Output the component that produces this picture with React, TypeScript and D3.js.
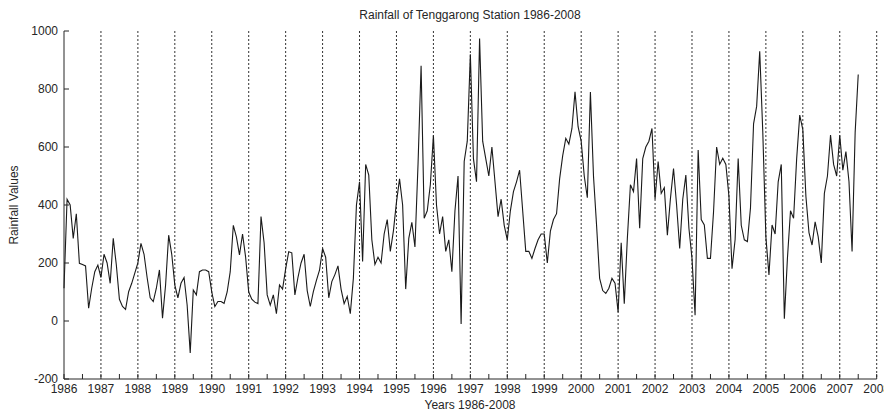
import React from "react";
import * as d3 from "d3";

const startYear = 1986;
const r1986 = [113, 420, 400, 285, 370, 199, 195, 190, 44, 113, 170, 193];
const r1987 = [150, 230, 200, 130, 285, 193, 75, 50, 40, 101, 130, 165];
const r1988 = [200, 268, 230, 150, 80, 67, 113, 176, 10, 124, 296, 230];
const r1989 = [124, 80, 130, 150, 55, -110, 107, 90, 170, 176, 176, 170];
const r1990 = [100, 50, 67, 67, 61, 100, 170, 330, 290, 228, 300, 220];
const r1991 = [100, 75, 65, 60, 360, 270, 90, 55, 90, 25, 124, 110];
const r1992 = [180, 239, 235, 90, 150, 200, 230, 105, 50, 101, 140, 175];
const r1993 = [250, 220, 80, 136, 160, 190, 110, 60, 85, 25, 147, 400];
const r1994 = [480, 205, 540, 503, 280, 195, 220, 200, 300, 350, 240, 310];
const r1995 = [410, 490, 400, 110, 285, 340, 255, 540, 880, 354, 380, 470];
const r1996 = [640, 400, 300, 360, 240, 280, 170, 380, 500, -10, 550, 620];
const r1997 = [920, 560, 480, 974, 620, 560, 500, 600, 480, 360, 420, 330];
const r1998 = [280, 380, 446, 480, 520, 380, 240, 240, 216, 250, 280, 300];
const r1999 = [300, 200, 310, 350, 370, 490, 570, 630, 610, 664, 790, 670];
const r2000 = [620, 500, 425, 790, 500, 330, 147, 105, 95, 113, 147, 130];
const r2001 = [30, 270, 60, 285, 470, 446, 560, 320, 560, 600, 620, 664];
const r2002 = [420, 550, 440, 460, 296, 423, 526, 400, 250, 420, 503, 320];
const r2003 = [216, 20, 590, 350, 331, 216, 216, 377, 600, 540, 561, 540];
const r2004 = [430, 180, 280, 560, 330, 280, 274, 390, 680, 740, 930, 650];
const r2005 = [290, 159, 331, 300, 480, 540, 8, 216, 380, 354, 560, 710];
const r2006 = [660, 430, 305, 262, 342, 290, 200, 440, 500, 641, 540, 500];
const r2007 = [640, 520, 584, 480, 240, 650, 850];

const yearlySeries = [
  r1986, r1987, r1988, r1989, r1990, r1991, r1992, r1993, r1994, r1995, r1996,
  r1997, r1998, r1999, r2000, r2001, r2002, r2003, r2004, r2005, r2006, r2007,
];

const xTickYears = d3.range(1986, 2009);
const yTickValues = [-200, 0, 200, 400, 600, 800, 1000];

const title = "Rainfall of Tenggarong Station 1986-2008";
const xLabel = "Years 1986-2008";
const yLabel = "Rainfall Values";

export default function App() {
  const W = 884;
  const H = 411;
  const x = d3.scaleLinear().domain([1986, 2008]).range([64, 876.7]);
  const y = d3.scaleLinear().domain([-200, 1000]).range([379, 31]);

  const points: [number, number][] = [];
  yearlySeries.forEach((arr, yi) => {
    arr.forEach((v, m) => points.push([startYear + yi + m / 12, v]));
  });

  const line = d3
    .line<[number, number]>()
    .x((d) => x(d[0]))
    .y((d) => y(d[1]));

  const halfTicks = d3.range(1986, 2008.01, 0.5);
  const font = "'Liberation Sans', Arial, sans-serif";
  const textColor = "#262626";
  const [y0, y1] = y.range();
  const [x0, x1] = x.range();

  return (
    <svg
      width={W}
      height={H}
      style={{ position: "absolute", left: 0, top: 0, background: "#fff" }}
      fontFamily={font}
    >
      <rect x={0} y={0} width={W} height={H} fill="#fff" />
      {/* grid */}
      {xTickYears
        .filter((yr) => yr > 1986)
        .map((yr) => (
          <line
            key={"g" + yr}
            x1={x(yr)}
            x2={x(yr)}
            y1={y1}
            y2={y0}
            stroke="#333"
            strokeWidth={1}
            strokeDasharray="2,2"
          />
        ))}
      {/* data line */}
      <path d={line(points) || ""} fill="none" stroke="#1a1a1a" strokeWidth={1.1} />
      {/* axes */}
      <line x1={x0} x2={x0} y1={y1} y2={y0} stroke="#262626" strokeWidth={1} />
      <line x1={x0} x2={x1} y1={y0} y2={y0} stroke="#262626" strokeWidth={1} />
      {halfTicks.map((t) => (
        <line
          key={"xt" + t}
          x1={x(t)}
          x2={x(t)}
          y1={y0}
          y2={y0 - 5}
          stroke="#262626"
          strokeWidth={1}
        />
      ))}
      {yTickValues.map((v) => (
        <line
          key={"yt" + v}
          x1={x0}
          x2={x0 + 5}
          y1={y(v)}
          y2={y(v)}
          stroke="#262626"
          strokeWidth={1}
        />
      ))}
      {xTickYears.map((yr) => (
        <text
          key={"xl" + yr}
          x={x(yr)}
          y={393}
          textAnchor="middle"
          fontSize={12}
          fill={textColor}
        >
          {yr}
        </text>
      ))}
      {yTickValues.map((v) => (
        <text
          key={"yl" + v}
          x={58}
          y={y(v) + 4}
          textAnchor="end"
          fontSize={12}
          fill={textColor}
        >
          {v}
        </text>
      ))}
      <text x={470} y={19} textAnchor="middle" fontSize={12} fill={textColor}>
        {title}
      </text>
      <text x={470} y={409} textAnchor="middle" fontSize={12} fill={textColor}>
        {xLabel}
      </text>
      <text
        transform={`translate(18,205) rotate(-90)`}
        textAnchor="middle"
        fontSize={12}
        fill={textColor}
      >
        {yLabel}
      </text>
    </svg>
  );
}
